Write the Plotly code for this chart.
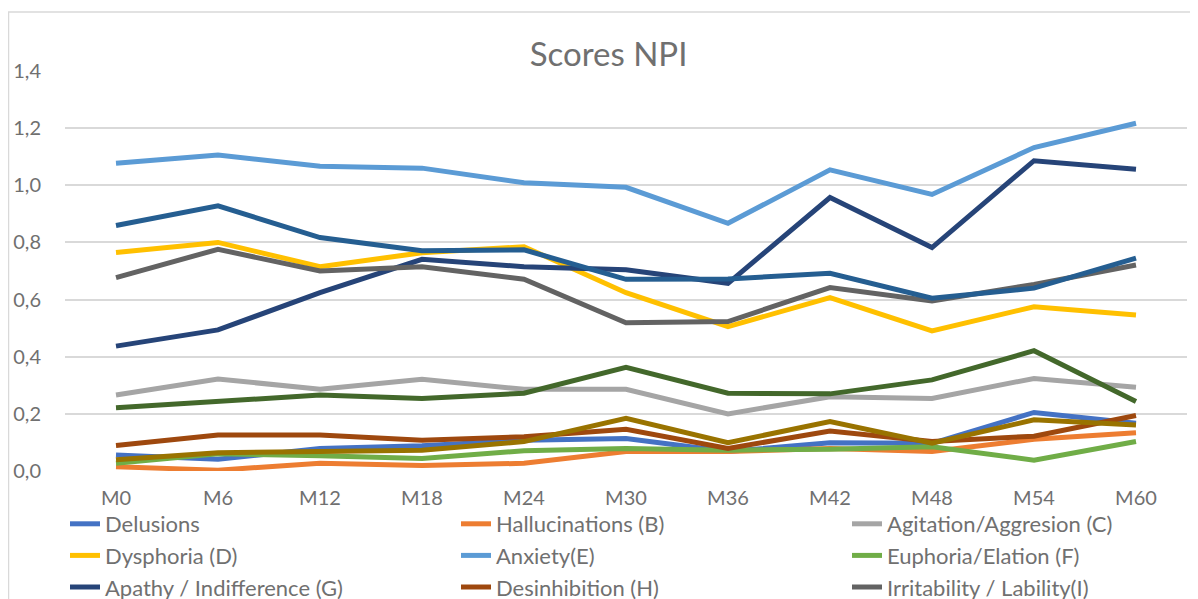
import plotly.graph_objects as go

months = ["M0", "M6", "M12", "M18", "M24", "M30", "M36", "M42", "M48", "M54", "M60"]

delusions = [0.056, 0.041, 0.079, 0.088, 0.108, 0.114, 0.068, 0.099, 0.097, 0.205, 0.167]
hallucinations = [0.015, 0.003, 0.027, 0.019, 0.027, 0.068, 0.068, 0.079, 0.068, 0.111, 0.134]
agitation = [0.266, 0.322, 0.286, 0.321, 0.286, 0.286, 0.200, 0.260, 0.254, 0.324, 0.293]
dysphoria = [0.765, 0.800, 0.715, 0.764, 0.785, 0.624, 0.505, 0.607, 0.490, 0.575, 0.546]
anxiety = [1.077, 1.106, 1.067, 1.060, 1.009, 0.993, 0.867, 1.054, 0.968, 1.132, 1.217]
euphoria = [0.027, 0.060, 0.053, 0.044, 0.071, 0.079, 0.073, 0.076, 0.085, 0.038, 0.103]
apathy = [0.437, 0.494, 0.624, 0.741, 0.715, 0.704, 0.657, 0.957, 0.782, 1.086, 1.056]
desinhibition = [0.089, 0.126, 0.126, 0.108, 0.120, 0.146, 0.079, 0.140, 0.103, 0.122, 0.194]
irritability = [0.677, 0.776, 0.700, 0.715, 0.671, 0.519, 0.523, 0.642, 0.595, 0.653, 0.721]
# last three series: their legend entries are cut off in the original
motor = [0.039, 0.064, 0.068, 0.073, 0.103, 0.184, 0.099, 0.173, 0.097, 0.179, 0.161]
sleep = [0.859, 0.928, 0.817, 0.771, 0.774, 0.671, 0.672, 0.692, 0.605, 0.640, 0.745]
appetite = [0.221, 0.243, 0.266, 0.254, 0.272, 0.363, 0.272, 0.270, 0.319, 0.421, 0.243]

series = [
    ("Delusions", delusions, "#4472C4", "legend"),
    ("Hallucinations (B)", hallucinations, "#ED7D31", "legend2"),
    ("Agitation/Aggresion (C)", agitation, "#A5A5A5", "legend3"),
    ("Dysphoria (D)", dysphoria, "#FFC000", "legend"),
    ("Anxiety(E)", anxiety, "#5B9BD5", "legend2"),
    ("Euphoria/Elation (F)", euphoria, "#70AD47", "legend3"),
    ("Apathy / Indifference (G)", apathy, "#264478", "legend"),
    ("Desinhibition (H)", desinhibition, "#9E480E", "legend2"),
    ("Irritability / Lability(I)", irritability, "#636363", "legend3"),
    ("Aberrant motor behavior (J)", motor, "#997300", None),
    ("Sleep (K)", sleep, "#255E91", None),
    ("Appetite (L)", appetite, "#43682B", None),
]

txt = "#707070"
font = "Lato"

fig = go.Figure()
for name, vals, col, leg in series:
    fig.add_trace(go.Scatter(
        x=months, y=vals, name=name, mode="lines",
        line=dict(color=col, width=5),
        cliponaxis=False,
        showlegend=leg is not None,
        legend=leg if leg else "legend",
    ))

leg_style = dict(
    orientation="v", xref="container", yref="container",
    xanchor="left", yanchor="top", font=dict(family=font, size=22, color=txt),
    bgcolor="rgba(0,0,0,0)", tracegroupgap=0, itemwidth=30,
)
leg_top = 1 - 495 / 599

fig.update_layout(
    width=1198, height=599,
    margin=dict(l=57, r=19, t=63, b=136, autoexpand=False),
    paper_bgcolor="white", plot_bgcolor="white",
    separators=", ",
    title=dict(text="Scores NPI", x=0.5013, xref="container", xanchor="center",
               y=1 - 46 / 599, yref="container", yanchor="middle",
               font=dict(family=font, size=33, color=txt)),
    xaxis=dict(range=[-0.5, 10.5], showgrid=False, zeroline=False, showline=False,
               ticks="", ticklabelstandoff=13, tickangle=0,
               tickfont=dict(family=font, size=20, color=txt)),
    yaxis=dict(range=[0, 1.4], dtick=0.2, tickformat=".1f",
               showgrid=True, gridcolor="#D9D9D9", gridwidth=1.5,
               zeroline=False, showline=False, ticks="", ticklabelstandoff=23,
               tickfont=dict(family=font, size=20, color=txt)),
    legend=dict(x=(99 - 42) / 1198, y=leg_top, **leg_style),
    legend2=dict(x=(490 - 42) / 1198, y=leg_top, **leg_style),
    legend3=dict(x=(881 - 42) / 1198, y=leg_top, **leg_style),
    shapes=[dict(type="rect", xref="paper", yref="paper",
                 x0=(0.5 - 57) / 1122, x1=(1210 - 57) / 1122,
                 y0=(463 - 620) / 400, y1=(463 - 4) / 400,
                 line=dict(color="#D9D9D9", width=1.5), layer="below")],
)

fig.write_html("out.html")
